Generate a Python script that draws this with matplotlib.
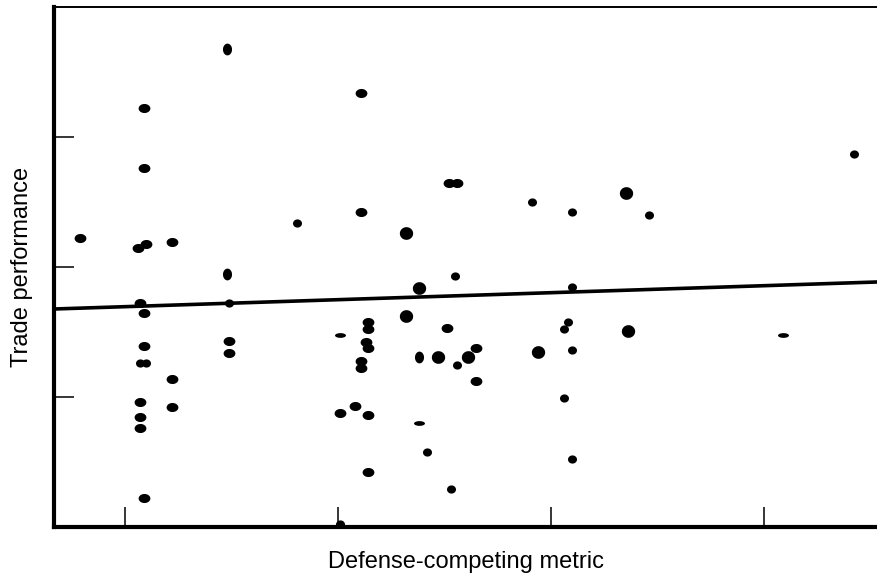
import numpy as np
import matplotlib
matplotlib.use("Agg")
import matplotlib.pyplot as plt

plt.rcParams['font.family'] = ['Liberation Sans', 'DejaVu Sans']

# dots, grouped by how big they print
small_x = [1.81, 1.49, 2.91, 3.10, 2.55, 3.10, 2.56, 3.08, 3.06, 3.10,
           2.42, 3.06, 3.10, 2.01, 3.46, 4.42, 1.07, 1.10, 2.53]
small_y = [2.34, 1.72, 2.50, 2.42, 1.93, 1.85, 1.25, 1.58, 1.52, 1.36,
           0.58, 0.99, 0.52, 0.02, 2.40, 2.87, 1.26, 1.26, 0.29]

medium_x = [1.09, 1.09, 0.79, 1.06, 1.10, 1.22, 1.07, 1.09, 1.09, 1.22,
            1.49, 1.49, 1.07, 1.07, 1.07, 1.22, 1.09, 2.11, 2.52, 2.56,
            2.11, 2.14, 2.14, 2.51, 2.13, 2.14, 2.65, 2.11, 2.11, 2.65,
            2.01, 2.08, 2.14, 2.14]
medium_y = [3.22, 2.76, 2.22, 2.15, 2.18, 2.19, 1.72, 1.65, 1.39, 1.14,
            1.43, 1.34, 0.96, 0.85, 0.76, 0.92, 0.22, 3.34, 2.65, 2.65,
            2.42, 1.58, 1.52, 1.53, 1.42, 1.38, 1.38, 1.28, 1.22, 1.12,
            0.88, 0.93, 0.86, 0.42]

upright_x = [1.48, 1.48, 2.38]
upright_y = [3.68, 1.95, 1.31]

large_x = [2.32, 2.38, 2.32, 2.47, 2.61, 2.94, 3.35, 3.36]
large_y = [2.26, 1.84, 1.62, 1.31, 1.31, 1.35, 2.57, 1.51]

flat_x = [2.01, 2.38, 4.09]
flat_y = [1.48, 0.80, 1.48]

# fitted line
fit_slope = 0.0538
fit_intercept = 1.641

x_ticks = [1, 2, 3, 4]
y_ticks = [1, 2, 3]


def oval(wide, tall):
    t = np.linspace(0, 2 * np.pi, 48)
    return np.column_stack([wide * np.cos(t), tall * np.sin(t)])


fig = plt.figure(figsize=(8.78, 5.75), dpi=100)
ax = fig.add_axes([54 / 878, 48 / 575, 824 / 878, 520 / 575])

ax.scatter(small_x, small_y, s=42, marker=oval(1.1, 1), color='black', lw=0, zorder=3)
ax.scatter(medium_x, medium_y, s=72, marker=oval(1.3, 1), color='black', lw=0, zorder=3)
ax.scatter(upright_x, upright_y, s=72, marker=oval(1, 1.3), color='black', lw=0, zorder=3)
ax.scatter(large_x, large_y, s=92, marker=oval(1.05, 1), color='black', lw=0, zorder=3)
ax.scatter(flat_x, flat_y, s=62, marker=oval(2.3, 1), color='black', lw=0, zorder=3)

x0, x1 = 0.667, 4.535
line_x = np.array([x0, x1])
ax.plot(line_x, fit_intercept + fit_slope * line_x, color='black', lw=2.6, zorder=2)

ax.set_xlim(x0, x1)
ax.set_ylim(0, 4)
ax.set_xticks(x_ticks)
ax.set_yticks(y_ticks)
ax.set_xticklabels([])
ax.set_yticklabels([])
ax.tick_params(direction='in', length=14.5, width=1.1, color='black')

ax.spines['right'].set_visible(False)
ax.spines['top'].set_linewidth(1.4)
ax.spines['left'].set_linewidth(3)
ax.spines['bottom'].set_linewidth(3)

ax.set_xlabel('Defense-competing metric', fontsize=17)
ax.set_ylabel('Trade performance', fontsize=17)
ax.xaxis.set_label_coords(0.5, -0.046)
ax.yaxis.set_label_coords(-0.026, 0.5)

fig.savefig('out.png', dpi=100)
